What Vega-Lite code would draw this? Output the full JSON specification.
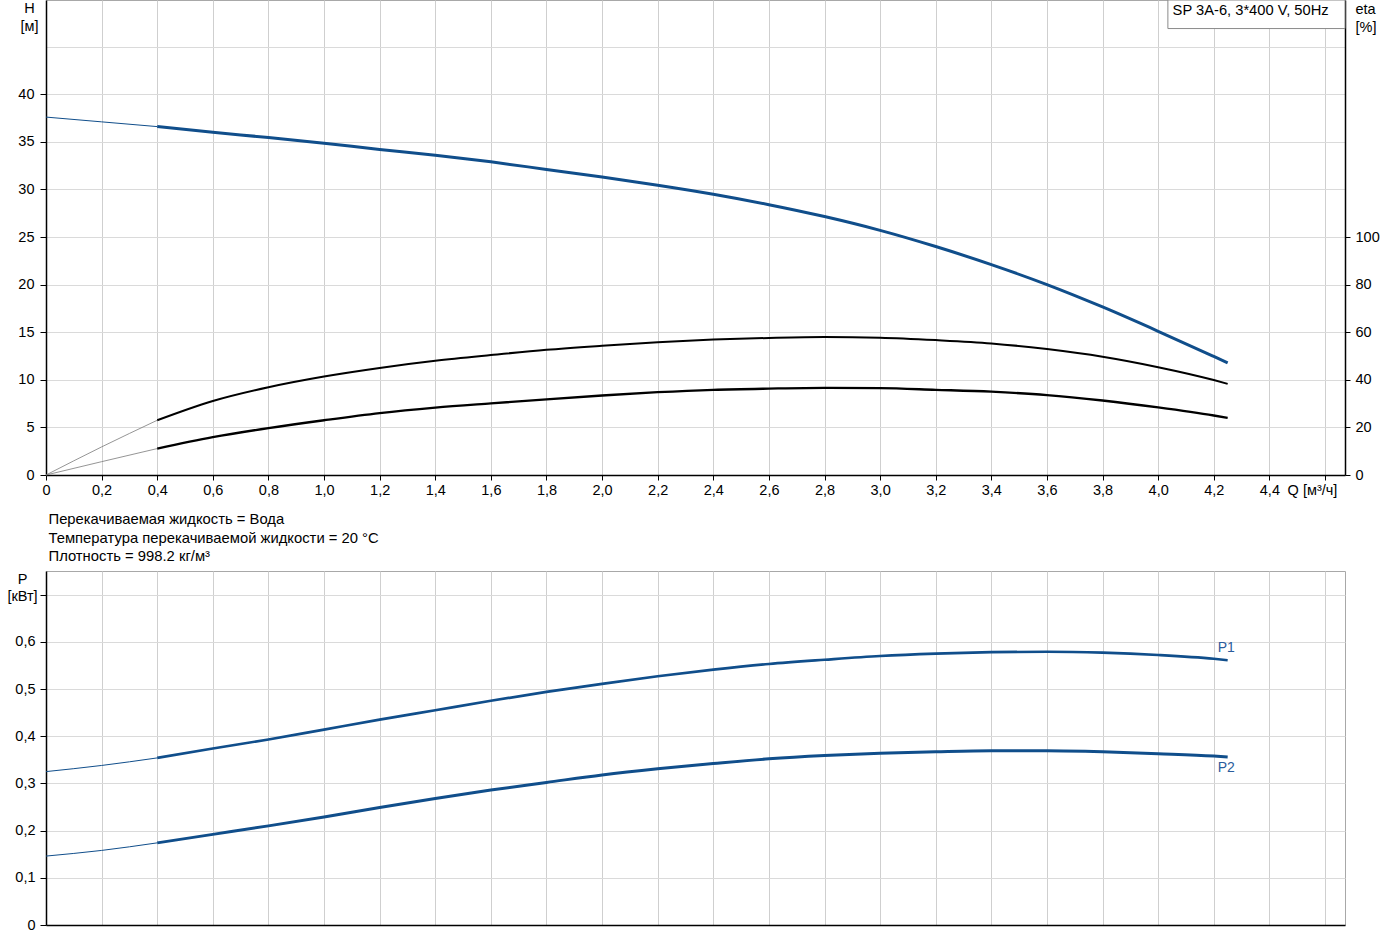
{
  "$schema": "https://vega.github.io/schema/vega-lite/v6.json",
  "background": "white",
  "padding": {"left": 6, "top": -1, "right": 0, "bottom": 0},
  "bounds": "flush",
  "spacing": 96,
  "config": {
    "font": "Liberation Sans",
    "view": {"stroke": "#a8a8a8"},
    "axis": {
      "labelFont": "Liberation Sans",
      "labelFontSize": 14.5,
      "labelColor": "black",
      "titleFont": "Liberation Sans",
      "titleFontSize": 14.5,
      "titleFontWeight": "normal",
      "titleColor": "black",
      "domainColor": "black",
      "domainWidth": 1.5,
      "tickColor": "black",
      "gridColor": "#d6d6d6",
      "gridWidth": 1,
      "labelOverlap": false,
      "labelFlush": false,
      "labelBound": false
    }
  },
  "datasets": {
    "curves": [
      {"s": "H", "Q": 0, "v": 37.6}, {"s": "H", "Q": 0.2, "v": 37.1}, {"s": "H", "Q": 0.4, "v": 36.6}, {"s": "H", "Q": 0.6, "v": 36.0}, {"s": "H", "Q": 0.8, "v": 35.45}, {"s": "H", "Q": 1.0, "v": 34.85}, {"s": "H", "Q": 1.2, "v": 34.2}, {"s": "H", "Q": 1.4, "v": 33.6}, {"s": "H", "Q": 1.6, "v": 32.9}, {"s": "H", "Q": 1.8, "v": 32.1}, {"s": "H", "Q": 2.0, "v": 31.3}, {"s": "H", "Q": 2.2, "v": 30.45}, {"s": "H", "Q": 2.4, "v": 29.5}, {"s": "H", "Q": 2.6, "v": 28.4}, {"s": "H", "Q": 2.8, "v": 27.15}, {"s": "H", "Q": 3.0, "v": 25.7}, {"s": "H", "Q": 3.2, "v": 24.0}, {"s": "H", "Q": 3.4, "v": 22.1}, {"s": "H", "Q": 3.6, "v": 20.0}, {"s": "H", "Q": 3.8, "v": 17.65}, {"s": "H", "Q": 4.0, "v": 15.1}, {"s": "H", "Q": 4.2, "v": 12.45}, {"s": "H", "Q": 4.25, "v": 11.78},
      {"s": "eta1", "Q": 0, "v": 0}, {"s": "eta1", "Q": 0.2, "v": 11.8}, {"s": "eta1", "Q": 0.4, "v": 23.0}, {"s": "eta1", "Q": 0.6, "v": 31.1}, {"s": "eta1", "Q": 0.8, "v": 36.9}, {"s": "eta1", "Q": 1.0, "v": 41.4}, {"s": "eta1", "Q": 1.2, "v": 45.0}, {"s": "eta1", "Q": 1.4, "v": 48.0}, {"s": "eta1", "Q": 1.6, "v": 50.4}, {"s": "eta1", "Q": 1.8, "v": 52.6}, {"s": "eta1", "Q": 2.0, "v": 54.3}, {"s": "eta1", "Q": 2.2, "v": 55.8}, {"s": "eta1", "Q": 2.4, "v": 56.9}, {"s": "eta1", "Q": 2.6, "v": 57.6}, {"s": "eta1", "Q": 2.8, "v": 58.0}, {"s": "eta1", "Q": 3.0, "v": 57.7}, {"s": "eta1", "Q": 3.2, "v": 56.7}, {"s": "eta1", "Q": 3.4, "v": 55.3}, {"s": "eta1", "Q": 3.6, "v": 52.9}, {"s": "eta1", "Q": 3.8, "v": 49.7}, {"s": "eta1", "Q": 4.0, "v": 45.3}, {"s": "eta1", "Q": 4.2, "v": 39.9}, {"s": "eta1", "Q": 4.25, "v": 38.3},
      {"s": "eta2", "Q": 0, "v": 0}, {"s": "eta2", "Q": 0.2, "v": 5.6}, {"s": "eta2", "Q": 0.4, "v": 11.1}, {"s": "eta2", "Q": 0.6, "v": 15.9}, {"s": "eta2", "Q": 0.8, "v": 19.7}, {"s": "eta2", "Q": 1.0, "v": 23.0}, {"s": "eta2", "Q": 1.2, "v": 26.0}, {"s": "eta2", "Q": 1.4, "v": 28.3}, {"s": "eta2", "Q": 1.6, "v": 30.1}, {"s": "eta2", "Q": 1.8, "v": 31.8}, {"s": "eta2", "Q": 2.0, "v": 33.4}, {"s": "eta2", "Q": 2.2, "v": 34.8}, {"s": "eta2", "Q": 2.4, "v": 35.8}, {"s": "eta2", "Q": 2.6, "v": 36.3}, {"s": "eta2", "Q": 2.8, "v": 36.6}, {"s": "eta2", "Q": 3.0, "v": 36.5}, {"s": "eta2", "Q": 3.2, "v": 35.8}, {"s": "eta2", "Q": 3.4, "v": 35.0}, {"s": "eta2", "Q": 3.6, "v": 33.6}, {"s": "eta2", "Q": 3.8, "v": 31.3}, {"s": "eta2", "Q": 4.0, "v": 28.4}, {"s": "eta2", "Q": 4.2, "v": 25.0}, {"s": "eta2", "Q": 4.25, "v": 24.0},
      {"s": "P1", "Q": 0, "v": 0.325}, {"s": "P1", "Q": 0.2, "v": 0.338}, {"s": "P1", "Q": 0.4, "v": 0.354}, {"s": "P1", "Q": 0.6, "v": 0.374}, {"s": "P1", "Q": 0.8, "v": 0.393}, {"s": "P1", "Q": 1.0, "v": 0.414}, {"s": "P1", "Q": 1.2, "v": 0.435}, {"s": "P1", "Q": 1.4, "v": 0.455}, {"s": "P1", "Q": 1.6, "v": 0.475}, {"s": "P1", "Q": 1.8, "v": 0.494}, {"s": "P1", "Q": 2.0, "v": 0.511}, {"s": "P1", "Q": 2.2, "v": 0.527}, {"s": "P1", "Q": 2.4, "v": 0.541}, {"s": "P1", "Q": 2.6, "v": 0.553}, {"s": "P1", "Q": 2.8, "v": 0.562}, {"s": "P1", "Q": 3.0, "v": 0.570}, {"s": "P1", "Q": 3.2, "v": 0.575}, {"s": "P1", "Q": 3.4, "v": 0.578}, {"s": "P1", "Q": 3.6, "v": 0.579}, {"s": "P1", "Q": 3.8, "v": 0.577}, {"s": "P1", "Q": 4.0, "v": 0.572}, {"s": "P1", "Q": 4.2, "v": 0.564}, {"s": "P1", "Q": 4.25, "v": 0.561},
      {"s": "P2", "Q": 0, "v": 0.146}, {"s": "P2", "Q": 0.2, "v": 0.158}, {"s": "P2", "Q": 0.4, "v": 0.174}, {"s": "P2", "Q": 0.6, "v": 0.192}, {"s": "P2", "Q": 0.8, "v": 0.210}, {"s": "P2", "Q": 1.0, "v": 0.229}, {"s": "P2", "Q": 1.2, "v": 0.249}, {"s": "P2", "Q": 1.4, "v": 0.268}, {"s": "P2", "Q": 1.6, "v": 0.286}, {"s": "P2", "Q": 1.8, "v": 0.302}, {"s": "P2", "Q": 2.0, "v": 0.318}, {"s": "P2", "Q": 2.2, "v": 0.331}, {"s": "P2", "Q": 2.4, "v": 0.342}, {"s": "P2", "Q": 2.6, "v": 0.352}, {"s": "P2", "Q": 2.8, "v": 0.359}, {"s": "P2", "Q": 3.0, "v": 0.364}, {"s": "P2", "Q": 3.2, "v": 0.367}, {"s": "P2", "Q": 3.4, "v": 0.369}, {"s": "P2", "Q": 3.6, "v": 0.369}, {"s": "P2", "Q": 3.8, "v": 0.367}, {"s": "P2", "Q": 4.0, "v": 0.363}, {"s": "P2", "Q": 4.2, "v": 0.358}, {"s": "P2", "Q": 4.25, "v": 0.356}
    ],
    "box": [
      {"Q": 4.035, "Q2": 4.672, "v": 46.9, "v2": 49.9, "Qt": 4.052, "Ht": 48.7, "label": "SP 3A-6, 3*400 V, 50Hz"}
    ]
  },
  "vconcat": [
    {
      "width": 1299,
      "height": 475,
      "layer": [
        {
          "layer": [
            {
              "data": {"name": "curves"},
              "transform": [{"filter": "datum.s == 'H' && datum.Q <= 0.4"}],
              "mark": {"type": "line", "color": "#104e8b", "strokeWidth": 1, "interpolate": "monotone"},
              "encoding": {
                "x": {
                  "field": "Q", "type": "quantitative",
                  "scale": {"domain": [0, 4.672], "nice": false, "zero": false},
                  "axis": {
                    "values": [0, 0.2, 0.4, 0.6, 0.8, 1.0, 1.2, 1.4, 1.6, 1.8, 2.0, 2.2, 2.4, 2.6, 2.8, 3.0, 3.2, 3.4, 3.6, 3.8, 4.0, 4.2, 4.4, 4.6],
                    "labelExpr": "datum.value > 4.5 ? 'Q [м³/ч]' : (datum.value == 0 ? '0' : replace(format(datum.value, '.1f'), '.', ','))",
                    "labelOffset": {"condition": {"test": "datum.value > 4.5", "value": -13}, "value": 0},
                    "grid": true,
                    "gridColor": "#cfcfcf",
                    "tickSize": 5,
                    "labelPadding": 3,
                    "title": ["Перекачиваемая жидкость = Вода", "Температура перекачиваемой жидкости = 20 °C", "Плотность = 998.2 кг/м³"],
                    "titleFontSize": 14.8,
                    "titleX": 2,
                    "titleY": 48.5,
                    "titleAlign": "left",
                    "titleAnchor": "start",
                    "titleBaseline": "alphabetic",
                    "titleLineHeight": 18.6
                  }
                },
                "y": {
                  "field": "v", "type": "quantitative",
                  "scale": {"domain": [0, 49.9], "nice": false},
                  "axis": {
                    "values": [0, 5, 10, 15, 20, 25, 30, 35, 40, 45],
                    "labelExpr": "datum.value > 42 ? '' : datum.label",
                    "tickOpacity": {"condition": {"test": "datum.value > 42", "value": 0}, "value": 1},
                    "grid": true,
                    "gridColor": "#dadada",
                    "tickSize": 6,
                    "labelPadding": 6,
                    "title": ["H", "[м]"],
                    "titleAngle": 0,
                    "titleX": -17,
                    "titleY": 12,
                    "titleAlign": "center",
                    "titleBaseline": "alphabetic",
                    "titleLineHeight": 18.5
                  }
                }
              }
            },
            {
              "data": {"name": "curves"},
              "transform": [{"filter": "datum.s == 'H' && datum.Q >= 0.4"}],
              "mark": {"type": "line", "color": "#104e8b", "strokeWidth": 3, "interpolate": "monotone"},
              "encoding": {
                "x": {"field": "Q", "type": "quantitative"},
                "y": {"field": "v", "type": "quantitative"}
              }
            },
            {
              "data": {"name": "box"},
              "mark": {"type": "rect", "fill": "white", "stroke": "#8a8a8a", "strokeWidth": 1},
              "encoding": {
                "x": {"field": "Q", "type": "quantitative"},
                "x2": {"field": "Q2"},
                "y": {"field": "v", "type": "quantitative"},
                "y2": {"field": "v2"}
              }
            },
            {
              "data": {"name": "box"},
              "mark": {"type": "text", "align": "left", "baseline": "middle", "fontSize": 14.7, "color": "black", "font": "Liberation Sans"},
              "encoding": {
                "x": {"field": "Qt", "type": "quantitative"},
                "y": {"field": "Ht", "type": "quantitative"},
                "text": {"field": "label"}
              }
            }
          ]
        },
        {
          "layer": [
            {
              "data": {"name": "curves"},
              "transform": [{"filter": "(datum.s == 'eta1' || datum.s == 'eta2') && datum.Q <= 0.4"}],
              "mark": {"type": "line", "color": "#7a7a7a", "strokeWidth": 0.8, "interpolate": "monotone"},
              "encoding": {
                "x": {"field": "Q", "type": "quantitative"},
                "y": {
                  "field": "v", "type": "quantitative",
                  "scale": {"domain": [0, 199.6], "nice": false},
                  "axis": {
                    "orient": "right",
                    "values": [0, 20, 40, 60, 80, 100],
                    "grid": false,
                    "tickSize": 5,
                    "labelPadding": 5,
                    "title": ["eta", "[%]"],
                    "titleAngle": 0,
                    "titleX": 10,
                    "titleY": 13,
                    "titleAlign": "left",
                    "titleBaseline": "alphabetic",
                    "titleLineHeight": 18.5
                  }
                },
                "detail": {"field": "s"}
              }
            },
            {
              "data": {"name": "curves"},
              "transform": [{"filter": "(datum.s == 'eta1' || datum.s == 'eta2') && datum.Q >= 0.4"}],
              "mark": {"type": "line", "color": "black", "interpolate": "monotone"},
              "encoding": {
                "x": {"field": "Q", "type": "quantitative"},
                "y": {"field": "v", "type": "quantitative"},
                "detail": {"field": "s"},
                "strokeWidth": {"field": "s", "type": "nominal", "scale": {"domain": ["eta1", "eta2"], "range": [2, 3]}, "legend": null}
              }
            }
          ]
        }
      ],
      "resolve": {"scale": {"y": "independent"}}
    },
    {
      "width": 1299,
      "height": 354,
      "layer": [
        {
          "data": {"name": "curves"},
          "transform": [{"filter": "(datum.s == 'P1' || datum.s == 'P2') && datum.Q <= 0.4"}],
          "mark": {"type": "line", "color": "#104e8b", "strokeWidth": 1, "interpolate": "monotone"},
          "encoding": {
            "x": {
              "field": "Q", "type": "quantitative",
              "scale": {"domain": [0, 4.672], "nice": false, "zero": false},
              "axis": {
                "values": [0, 0.2, 0.4, 0.6, 0.8, 1.0, 1.2, 1.4, 1.6, 1.8, 2.0, 2.2, 2.4, 2.6, 2.8, 3.0, 3.2, 3.4, 3.6, 3.8, 4.0, 4.2, 4.4, 4.6],
                "labels": false,
                "ticks": false,
                "grid": true,
                "gridColor": "#cfcfcf",
                "title": null
              }
            },
            "y": {
              "field": "v", "type": "quantitative",
              "scale": {"domain": [0, 0.75], "nice": false},
              "axis": {
                "values": [0, 0.1, 0.2, 0.3, 0.4, 0.5, 0.6, 0.7],
                "labelExpr": "datum.value == 0 ? '0' : (datum.value > 0.65 ? '' : replace(format(datum.value, '.1f'), '.', ','))",
                "grid": true,
                "gridColor": "#dadada",
                "tickSize": 6,
                "labelPadding": 5,
                "title": ["P", "[кВт]"],
                "titleAngle": 0,
                "titleX": -24,
                "titleY": 12,
                "titleAlign": "center",
                "titleBaseline": "alphabetic",
                "titleLineHeight": 17.5
              }
            },
            "detail": {"field": "s"}
          }
        },
        {
          "data": {"name": "curves"},
          "transform": [{"filter": "(datum.s == 'P1' || datum.s == 'P2') && datum.Q >= 0.4"}],
          "mark": {"type": "line", "color": "#104e8b", "interpolate": "monotone"},
          "encoding": {
            "x": {"field": "Q", "type": "quantitative"},
            "y": {"field": "v", "type": "quantitative"},
            "detail": {"field": "s"},
            "strokeWidth": {"field": "s", "type": "nominal", "scale": {"domain": ["P1", "P2"], "range": [3, 2]}, "legend": null}
          }
        },
        {
          "data": {"name": "curves"},
          "transform": [{"filter": "datum.s == 'P1' && datum.Q == 4.25"}],
          "mark": {"type": "text", "align": "left", "baseline": "alphabetic", "dx": -10, "dy": -8, "fontSize": 14, "color": "#2b5c9c", "font": "Liberation Sans"},
          "encoding": {
            "x": {"field": "Q", "type": "quantitative"},
            "y": {"field": "v", "type": "quantitative"},
            "text": {"field": "s"}
          }
        },
        {
          "data": {"name": "curves"},
          "transform": [{"filter": "datum.s == 'P2' && datum.Q == 4.25"}],
          "mark": {"type": "text", "align": "left", "baseline": "alphabetic", "dx": -10, "dy": 15, "fontSize": 14, "color": "#2b5c9c", "font": "Liberation Sans"},
          "encoding": {
            "x": {"field": "Q", "type": "quantitative"},
            "y": {"field": "v", "type": "quantitative"},
            "text": {"field": "s"}
          }
        }
      ]
    }
  ]
}
